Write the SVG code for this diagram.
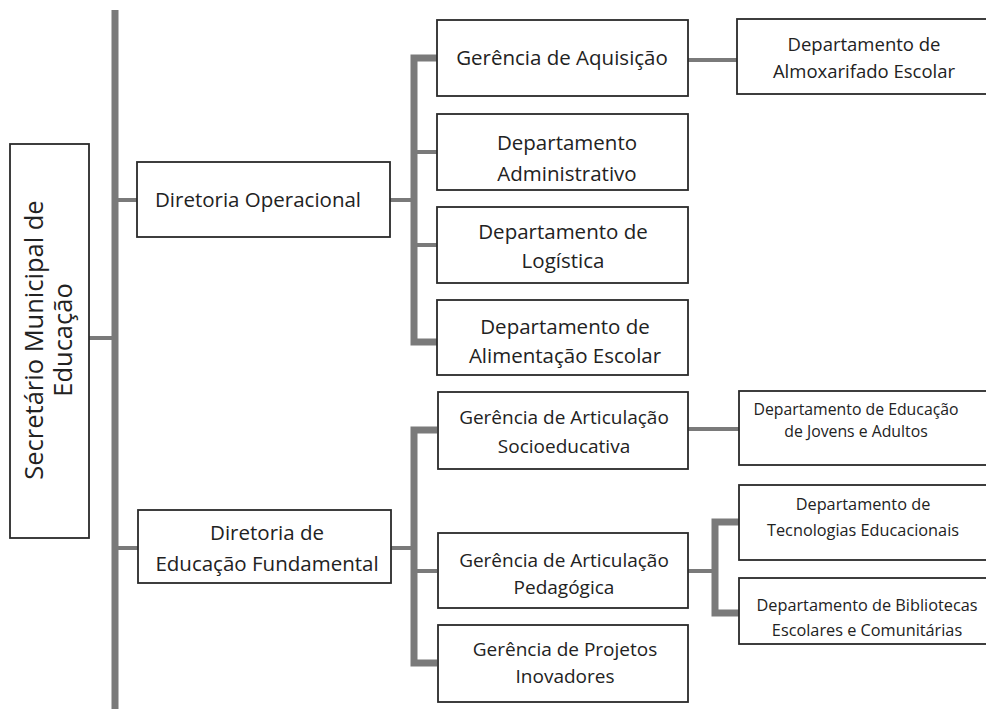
<svg xmlns="http://www.w3.org/2000/svg" width="986" height="709" viewBox="0 0 986 709">
<style>
.box{fill:#fff;stroke:#2a2a2a;stroke-width:1.8}
.t{font-family:"Open Sans","Noto Sans",sans-serif;fill:#222;text-anchor:middle}
.c{fill:none;stroke:#7a7a7a;stroke-linecap:butt}
.bar{stroke-width:7}
.br{stroke-width:4}
</style>
<rect width="986" height="709" fill="#fff"/>
<g id="connectors">
<line class="c bar" x1="115" y1="10" x2="115" y2="709"/>
<line class="c br" x1="89" y1="338" x2="115" y2="338"/>
<line class="c br" x1="115" y1="200" x2="138" y2="200"/>
<line class="c br" x1="115" y1="548" x2="138" y2="548"/>
<line class="c br" x1="390" y1="200" x2="414" y2="200"/>
<polyline class="c bar" points="437,58 414,58 414,342 437,342"/>
<line class="c br" x1="414" y1="152" x2="437" y2="152"/>
<line class="c br" x1="414" y1="245" x2="437" y2="245"/>
<line class="c br" x1="688" y1="60" x2="737" y2="60"/>
<line class="c br" x1="390" y1="548" x2="414" y2="548"/>
<polyline class="c bar" points="437,430 414,430 414,663 437,663"/>
<line class="c br" x1="414" y1="571" x2="437" y2="571"/>
<line class="c br" x1="688" y1="429" x2="739" y2="429"/>
<line class="c br" x1="688" y1="571" x2="715" y2="571"/>
<polyline class="c bar" points="739,522 715,522 715,613 739,613"/>
</g>
<g id="secretario">
<rect class="box" x="10" y="144" width="79" height="394"/>
<g transform="translate(50,340) rotate(-90)">
<text class="t" x="0" y="-7" font-size="25.5">Secretário Municipal de</text>
<text class="t" x="0" y="22" font-size="25.5">Educação</text>
</g>
</g>
<g id="diretoria-operacional">
<rect class="box" x="137" y="162" width="253" height="75"/>
<text class="t" x="258" y="207" font-size="20.5">Diretoria Operacional</text>
</g>
<g id="gerencia-aquisicao">
<rect class="box" x="437" y="20" width="251" height="76"/>
<text class="t" x="562" y="65" font-size="20.5">Gerência de Aquisição</text>
</g>
<g id="dep-administrativo">
<rect class="box" x="437" y="114" width="251" height="76"/>
<text class="t" x="567" y="150" font-size="20.5">Departamento</text>
<text class="t" x="567" y="181" font-size="20.5">Administrativo</text>
</g>
<g id="dep-logistica">
<rect class="box" x="437" y="207" width="251" height="76"/>
<text class="t" x="563" y="239" font-size="20.5">Departamento de</text>
<text class="t" x="563" y="268" font-size="20.5">Logística</text>
</g>
<g id="dep-alimentacao">
<rect class="box" x="437" y="300" width="251" height="75"/>
<text class="t" x="565" y="334" font-size="20.5">Departamento de</text>
<text class="t" x="565" y="363" font-size="20.5">Alimentação Escolar</text>
</g>
<g id="dep-almoxarifado">
<rect class="box" x="737" y="19" width="260" height="75"/>
<text class="t" x="864" y="51" font-size="18.5">Departamento de</text>
<text class="t" x="864" y="78" font-size="18.5">Almoxarifado Escolar</text>
</g>
<g id="diretoria-fundamental">
<rect class="box" x="138" y="510" width="253" height="73"/>
<text class="t" x="267" y="540" font-size="20.5">Diretoria de</text>
<text class="t" x="267" y="571" font-size="20.5">Educação Fundamental</text>
</g>
<g id="gerencia-socioeducativa">
<rect class="box" x="438" y="392" width="250" height="77"/>
<text class="t" x="564" y="424" font-size="19">Gerência de Articulação</text>
<text class="t" x="564" y="453" font-size="19">Socioeducativa</text>
</g>
<g id="gerencia-pedagogica">
<rect class="box" x="438" y="533" width="250" height="75"/>
<text class="t" x="564" y="567" font-size="19">Gerência de Articulação</text>
<text class="t" x="564" y="594" font-size="19">Pedagógica</text>
</g>
<g id="gerencia-projetos">
<rect class="box" x="438" y="625" width="250" height="77"/>
<text class="t" x="565" y="656" font-size="19">Gerência de Projetos</text>
<text class="t" x="565" y="683" font-size="19">Inovadores</text>
</g>
<g id="dep-jovens">
<rect class="box" x="739" y="391" width="260" height="74"/>
<text class="t" x="856" y="415" font-size="15.8">Departamento de Educação</text>
<text class="t" x="856" y="437" font-size="15.8">de Jovens e Adultos</text>
</g>
<g id="dep-tecnologias">
<rect class="box" x="739" y="485" width="260" height="75"/>
<text class="t" x="863" y="510" font-size="16.3">Departamento de</text>
<text class="t" x="863" y="536" font-size="16.3">Tecnologias Educacionais</text>
</g>
<g id="dep-bibliotecas">
<rect class="box" x="739" y="578" width="260" height="66"/>
<text class="t" x="867" y="611" font-size="16.3">Departamento de Bibliotecas</text>
<text class="t" x="867" y="636" font-size="16.3">Escolares e Comunitárias</text>
</g>
</svg>
